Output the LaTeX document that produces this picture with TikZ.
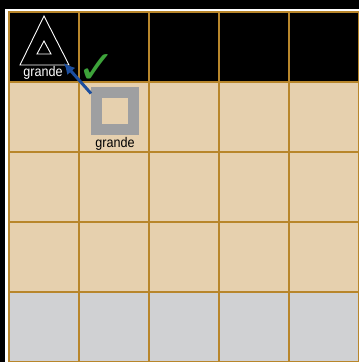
\documentclass[tikz,border=0pt]{standalone}
\usepackage{fontspec}
\setmainfont{Liberation Sans}
\newfontfamily\symfont{DejaVu Sans}
\usetikzlibrary{arrows.meta, positioning, calc}
\definecolor{board}{HTML}{E6D0AE}
\definecolor{base}{HTML}{D0D1D3}
\definecolor{gridline}{HTML}{B8862B}
\definecolor{frame}{HTML}{9E9FA1}
\definecolor{arrowblue}{HTML}{1C4E9E}
\definecolor{checkgreen}{HTML}{3DA33A}

\begin{document}
\begin{tikzpicture}[x=1pt, y=-1pt, >={Latex[length=11pt,width=11pt]}, thick]
        \tikzstyle{cell} = [draw=gridline, line width=1.4pt, minimum size=70pt, inner sep=0pt]
        \tikzstyle{lbl} = [inner sep=1pt, xscale=0.9, font=\fontsize{14}{14}\selectfont]

        % Fond si cadru
        \useasboundingbox[fill=black] (0,0) rectangle (359,362);
        \draw[white, line width=3pt] (6.5,10.5) rectangle (390,390);

        % Tabla 5x5
        \foreach \r/\col in {0/black, 1/board, 2/board, 3/board, 4/base} {
            \foreach \c in {0,...,4} {
                \node[cell, fill=\col] (c\r\c) at (44+70*\c, 47+70*\r) {};
            }
        }

        % Piesa triunghi
        \draw[white, line width=0.9pt] (44,16) -- (20,65) -- (69,65) -- cycle;
        \draw[white, line width=0.9pt] (44,41) -- (37,54) -- (51,54) -- cycle;
        \node[lbl, text=white] (lblA) at (43,73) {grande};

        % Piesa patrat
        \node[draw=frame, line width=11pt, minimum size=37pt, inner sep=0pt] (sq) at (115,110.5) {};
        \node[lbl, below=1pt of sq] (lblB) {grande};

        % Mutare
        \draw[->, arrowblue, line width=3pt] ([yshift=-7pt]sq.north west) -- ([yshift=2pt]lblA.north east);
        \node[text=checkgreen, font=\symfont\bfseries\fontsize{46}{46}\selectfont] (chk) at (97,69) {✓};

    \end{tikzpicture}
\end{document}
